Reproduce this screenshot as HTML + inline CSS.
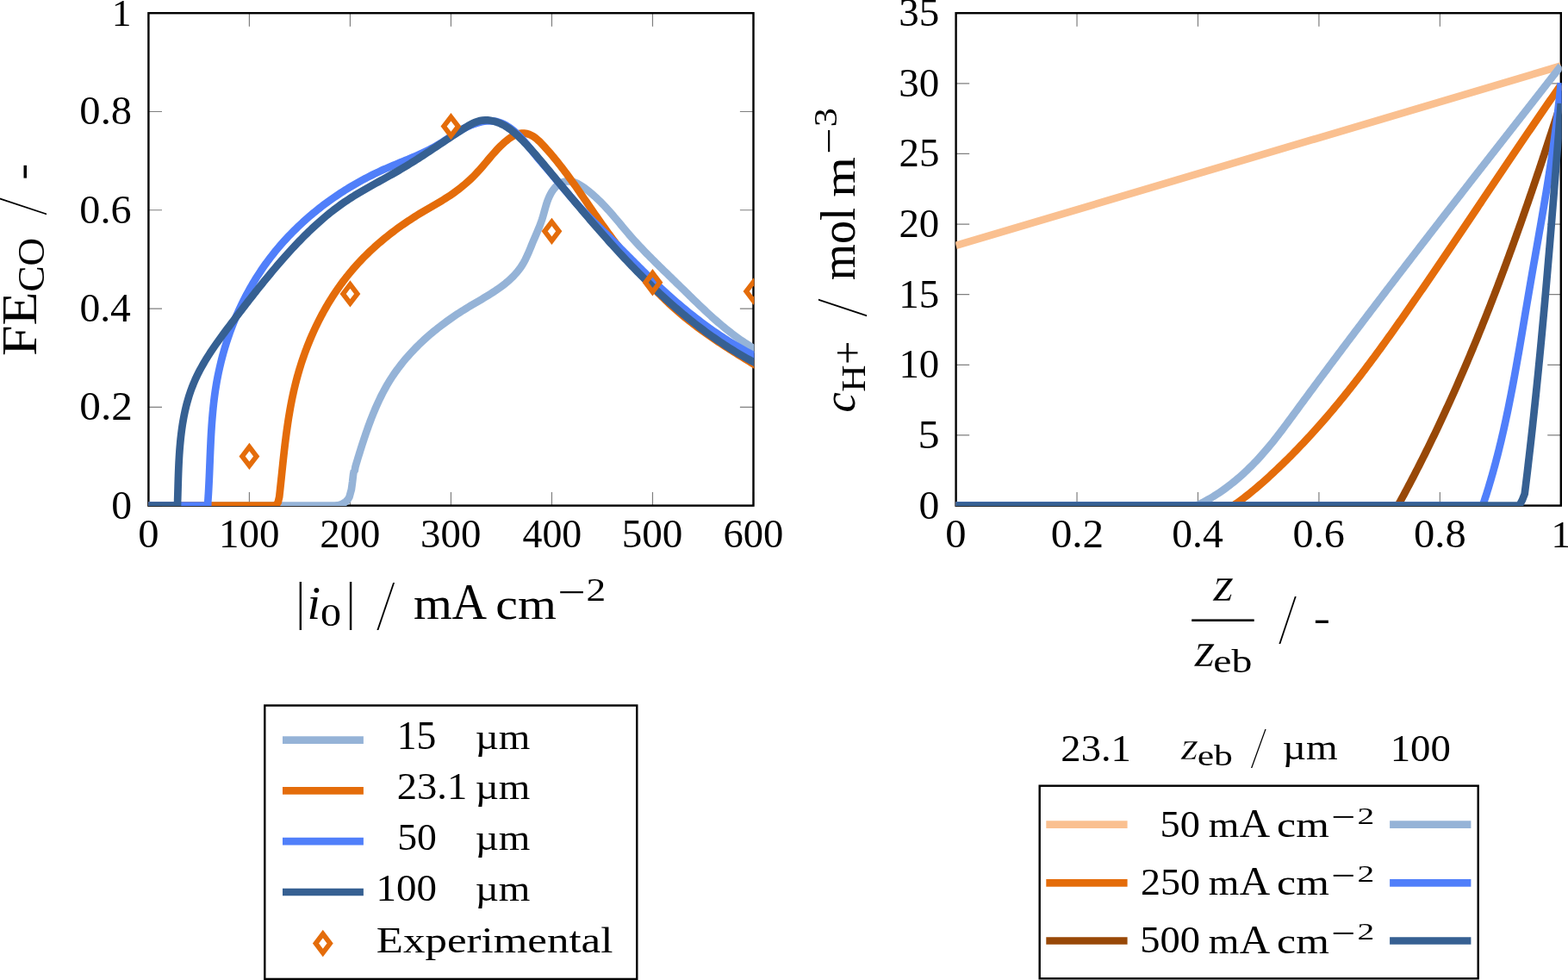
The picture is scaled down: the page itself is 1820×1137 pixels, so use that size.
<!DOCTYPE html>
<html lang="en">
<head>
<meta charset="utf-8">
<title>FE_CO and proton concentration plots</title>
<style>
html,body{margin:0;padding:0;background:#fff;}
body{width:1820px;height:1137px;overflow:hidden;}
svg{display:block;}
svg text{font-family:"Liberation Serif","DejaVu Serif",serif;font-size:100px;fill:#000;font-kerning:none;font-variant-ligatures:none;white-space:pre;}
.ax{fill:none;stroke:#000;stroke-width:2.4;}
.tk{stroke:#7f7f7f;stroke-width:1.2;fill:none;}
.cv{fill:none;stroke-width:8.7;stroke-linejoin:miter;stroke-miterlimit:3;stroke-linecap:butt;}
.mk{fill:none;stroke:#e46c0a;stroke-width:5.75;stroke-linejoin:miter;}
</style>
</head>
<body>
<svg width="1820" height="1137" viewBox="0 0 1820 1137">
<defs>
<clipPath id="clipL"><rect x="172" y="14.9" width="703.4" height="572.05"/></clipPath>
<clipPath id="clipR"><rect x="1109.2" y="14.9" width="703.5" height="572.05"/></clipPath>
</defs>
<rect x="0" y="0" width="1820" height="1137" fill="#fff"/>
<!-- left plot -->
<g>
<path class="tk" d="M172.4 586.6v-15.6M172.4 15.2v15.6M289.42 586.6v-15.6M289.42 15.2v15.6M406.43 586.6v-15.6M406.43 15.2v15.6M523.45 586.6v-15.6M523.45 15.2v15.6M640.47 586.6v-15.6M640.47 15.2v15.6M757.48 586.6v-15.6M757.48 15.2v15.6M874.5 586.6v-15.6M874.5 15.2v15.6M172.4 586.6h15.6M874.5 586.6h-15.6M172.4 472.32h15.6M874.5 472.32h-15.6M172.4 358.04h15.6M874.5 358.04h-15.6M172.4 243.76h15.6M874.5 243.76h-15.6M172.4 129.48h15.6M874.5 129.48h-15.6M172.4 15.2h15.6M874.5 15.2h-15.6"/>
<rect class="ax" x="172.4" y="15.2" width="702.1" height="571.4"/>
<g clip-path="url(#clipL)">
<path class="cv" stroke="#95b3d7" d="M172.4 586.6L388.5 586.6L391.5 586.4L394.4 585.8L397 584.8L399.5 583.4L401.2 582.2L402.7 580.8L404.2 578.9L405.5 576.6L407.9 567.8L409.1 559L410.1 550.2L410.7 547.2L411.8 545.6L412.5 541.4L413.8 537L413.8 537L414.66 534.17L415.53 531.34L416.4 528.49L417.29 525.64L418.18 522.78L419.08 519.92L419.99 517.05L420.91 514.18L421.85 511.31L422.8 508.43L423.76 505.56L424.74 502.69L425.73 499.82L426.75 496.95L427.78 494.09L428.83 491.24L429.9 488.39L430.99 485.55L432.1 482.71L433.24 479.89L434.4 477.08L435.58 474.28L436.79 471.5L438.03 468.73L439.3 465.97L440.59 463.23L441.91 460.51L443.27 457.81L444.65 455.13L446.07 452.47L447.52 449.83L449.01 447.21L450.53 444.62L452.09 442.06L453.68 439.52L455.31 437L456.98 434.52L458.68 432.05L460.42 429.62L462.19 427.21L464 424.83L465.84 422.47L467.71 420.13L469.61 417.83L471.54 415.54L473.51 413.28L475.5 411.05L477.52 408.84L479.57 406.66L481.65 404.5L483.76 402.36L485.89 400.25L488.05 398.16L490.24 396.1L492.45 394.06L494.68 392.04L496.94 390.04L499.22 388.07L501.53 386.13L503.85 384.2L506.2 382.3L508.57 380.42L510.96 378.56L513.36 376.72L515.79 374.91L518.23 373.12L520.7 371.35L523.17 369.6L525.67 367.87L528.18 366.17L530.71 364.48L533.25 362.82L535.8 361.18L538.37 359.56L540.95 357.95L543.54 356.37L546.14 354.81L548.75 353.26L551.36 351.73L553.98 350.2L556.59 348.67L559.2 347.13L561.8 345.59L564.39 344.04L566.96 342.48L569.51 340.89L572.04 339.28L574.55 337.63L577.03 335.96L579.48 334.25L581.9 332.49L584.27 330.69L586.61 328.84L588.9 326.93L591.15 324.96L593.35 322.93L595.49 320.83L597.57 318.66L599.57 316.42L601.5 314.1L603.32 311.71L605.04 309.24L606.65 306.7L608.16 304.09L609.58 301.42L610.92 298.7L612.19 295.94L613.42 293.16L614.6 290.36L615.76 287.55L616.91 284.75L618.06 281.95L619.21 279.18L620.39 276.43L621.56 273.7L622.74 270.97L623.9 268.25L625.04 265.51L626.15 262.76L627.22 259.99L628.24 257.18L629.2 254.33L630.09 251.43L630.94 248.49L631.76 245.53L632.58 242.55L633.42 239.58L634.32 236.63L635.3 233.7L636.38 230.82L637.59 228.01L638.95 225.26L640.5 222.6L642.24 220.07L644.17 217.71L646.28 215.59L648.57 213.77L651.04 212.3L653.65 211.21L656.36 210.52L659.15 210.22L661.95 210.33L664.74 210.85L667.5 211.74L670.22 212.94L672.89 214.4L675.52 216.06L678.1 217.86L680.62 219.74L683.08 221.66L685.49 223.63L687.84 225.63L690.15 227.66L692.4 229.73L694.61 231.83L696.78 233.96L698.91 236.11L701.01 238.28L703.08 240.48L705.12 242.7L707.13 244.93L709.12 247.18L711.09 249.44L713.04 251.72L714.98 254L716.92 256.29L718.84 258.58L720.76 260.87L722.68 263.17L724.61 265.46L726.53 267.74L728.47 270.02L730.42 272.3L732.38 274.56L734.37 276.8L736.37 279.04L738.38 281.26L740.42 283.47L742.46 285.67L744.53 287.86L746.6 290.03L748.69 292.2L750.79 294.36L752.91 296.51L755.03 298.66L757.16 300.8L759.3 302.93L761.45 305.05L763.6 307.17L765.76 309.29L767.92 311.4L770.09 313.52L772.26 315.62L774.44 317.73L776.61 319.84L778.79 321.94L780.96 324.05L783.14 326.15L785.31 328.26L787.48 330.37L789.64 332.49L791.8 334.6L793.96 336.72L796.12 338.83L798.28 340.95L800.44 343.06L802.6 345.17L804.76 347.27L806.92 349.37L809.09 351.47L811.27 353.56L813.44 355.64L815.63 357.71L817.82 359.77L820.02 361.82L822.23 363.86L824.45 365.89L826.68 367.91L828.92 369.91L831.17 371.89L833.43 373.86L835.71 375.81L838.01 377.75L840.31 379.66L842.64 381.56L844.98 383.44L847.34 385.29L849.72 387.12L852.11 388.93L854.53 390.71L856.97 392.47L859.43 394.2L861.91 395.91L864.42 397.58L866.95 399.23L869.51 400.85L872.09 402.44L874.7 403.99L877.33 405.51L880 407"/>
<path class="cv" stroke="#e46c0a" d="M172.4 586.6L318.6 586.6L321.2 585L322.8 582.5L324.2 576.5L324.2 576.5L324.53 573.52L324.86 570.53L325.19 567.55L325.51 564.56L325.83 561.57L326.14 558.57L326.46 555.58L326.77 552.58L327.08 549.58L327.39 546.58L327.71 543.58L328.02 540.58L328.34 537.58L328.66 534.58L328.98 531.58L329.31 528.58L329.65 525.58L329.98 522.58L330.33 519.58L330.68 516.58L331.04 513.58L331.41 510.58L331.79 507.58L332.17 504.59L332.57 501.59L332.98 498.6L333.4 495.61L333.83 492.62L334.28 489.64L334.73 486.65L335.21 483.67L335.7 480.7L336.2 477.72L336.72 474.75L337.26 471.78L337.81 468.82L338.38 465.86L338.97 462.91L339.59 459.95L340.22 457.01L340.87 454.06L341.54 451.13L342.24 448.19L342.96 445.26L343.7 442.34L344.47 439.42L345.26 436.51L346.08 433.61L346.91 430.71L347.78 427.82L348.66 424.93L349.57 422.05L350.51 419.18L351.46 416.32L352.45 413.47L353.45 410.63L354.48 407.79L355.54 404.96L356.62 402.15L357.72 399.34L358.85 396.54L360 393.75L361.18 390.98L362.38 388.21L363.61 385.46L364.86 382.72L366.13 379.99L367.43 377.27L368.76 374.56L370.11 371.87L371.48 369.19L372.88 366.53L374.3 363.88L375.75 361.24L377.22 358.61L378.72 356.01L380.24 353.41L381.79 350.83L383.37 348.27L384.96 345.72L386.59 343.19L388.24 340.68L389.91 338.18L391.61 335.7L393.33 333.24L395.08 330.79L396.86 328.37L398.66 325.96L400.48 323.57L402.34 321.19L404.21 318.84L406.11 316.51L408.04 314.2L410 311.91L411.98 309.63L413.98 307.38L416.01 305.15L418.07 302.94L420.15 300.76L422.26 298.59L424.39 296.45L426.55 294.33L428.73 292.22L430.93 290.15L433.16 288.09L435.4 286.05L437.67 284.04L439.96 282.05L442.27 280.08L444.59 278.13L446.94 276.2L449.3 274.3L451.68 272.41L454.08 270.55L456.49 268.71L458.92 266.89L461.37 265.09L463.82 263.32L466.3 261.56L468.78 259.83L471.28 258.12L473.79 256.43L476.31 254.76L478.84 253.11L481.38 251.49L483.93 249.89L486.49 248.31L489.06 246.75L491.63 245.21L494.21 243.69L496.8 242.18L499.39 240.68L501.97 239.19L504.56 237.69L507.14 236.19L509.71 234.68L512.27 233.15L514.83 231.6L517.37 230.02L519.89 228.41L522.4 226.76L524.89 225.07L527.35 223.33L529.8 221.56L532.21 219.74L534.6 217.88L536.97 215.97L539.3 214.03L541.59 212.04L543.85 210.02L546.08 207.96L548.27 205.86L550.41 203.72L552.52 201.55L554.58 199.34L556.6 197.1L558.59 194.83L560.56 192.55L562.51 190.25L564.45 187.94L566.38 185.64L568.32 183.34L570.28 181.04L572.25 178.77L574.24 176.52L576.28 174.29L578.35 172.1L580.47 169.95L582.64 167.85L584.88 165.8L587.18 163.8L589.56 161.87L592.03 160.04L594.57 158.35L597.18 156.89L599.88 155.72L602.65 154.89L605.49 154.49L608.38 154.54L611.27 155.02L614.08 155.88L616.75 157.07L619.29 158.54L621.72 160.26L624.05 162.18L626.3 164.25L628.48 166.44L630.61 168.71L632.7 171L634.77 173.3L636.8 175.62L638.81 177.94L640.8 180.28L642.76 182.63L644.7 184.99L646.61 187.35L648.5 189.73L650.38 192.11L652.23 194.51L654.07 196.91L655.88 199.32L657.69 201.73L659.48 204.15L661.25 206.58L663.01 209.01L664.76 211.45L666.51 213.9L668.24 216.34L669.96 218.79L671.68 221.25L673.38 223.71L675.09 226.17L676.79 228.63L678.49 231.1L680.19 233.56L681.88 236.03L683.58 238.5L685.27 240.96L686.97 243.43L688.68 245.9L690.39 248.36L692.1 250.83L693.82 253.29L695.55 255.75L697.29 258.21L699.03 260.66L700.78 263.11L702.54 265.56L704.3 268L706.08 270.44L707.86 272.87L709.65 275.3L711.45 277.73L713.25 280.14L715.07 282.55L716.89 284.96L718.73 287.36L720.57 289.75L722.43 292.13L724.29 294.51L726.17 296.88L728.05 299.24L729.95 301.59L731.86 303.93L733.78 306.26L735.7 308.59L737.64 310.9L739.6 313.2L741.56 315.49L743.54 317.77L745.53 320.04L747.53 322.3L749.54 324.55L751.57 326.78L753.61 329L755.66 331.2L757.72 333.4L759.8 335.58L761.9 337.74L764.01 339.89L766.13 342.03L768.26 344.15L770.41 346.25L772.58 348.34L774.76 350.42L776.96 352.47L779.17 354.51L781.4 356.53L783.64 358.54L785.9 360.53L788.17 362.49L790.47 364.45L792.77 366.38L795.1 368.29L797.44 370.19L799.79 372.06L802.16 373.93L804.54 375.77L806.94 377.6L809.35 379.41L811.77 381.21L814.2 382.99L816.65 384.76L819.1 386.52L821.57 388.26L824.05 389.99L826.53 391.71L829.03 393.41L831.53 395.1L834.04 396.78L836.56 398.45L839.08 400.11L841.61 401.76L844.15 403.4L846.69 405.03L849.24 406.66L851.79 408.27L854.35 409.88L856.9 411.47L859.47 413.07L862.03 414.65L864.6 416.23L867.16 417.8L869.73 419.37L872.3 420.94L874.87 422.49L877.43 424.05L880 425.6"/>
<path class="cv" stroke="#507ffa" d="M172.4 586.6L241.2 586.6L241.3 582L241.51 579.01L241.7 576.01L241.89 573.01L242.06 570.01L242.23 567.01L242.38 564.01L242.53 561L242.68 558L242.81 554.99L242.95 551.98L243.08 548.97L243.2 545.97L243.32 542.96L243.44 539.95L243.57 536.94L243.69 533.92L243.81 530.91L243.93 527.9L244.06 524.89L244.18 521.88L244.32 518.87L244.46 515.86L244.6 512.85L244.75 509.84L244.91 506.84L245.07 503.83L245.25 500.82L245.44 497.82L245.63 494.82L245.84 491.81L246.06 488.81L246.29 485.81L246.54 482.82L246.8 479.82L247.08 476.83L247.37 473.84L247.68 470.85L248.01 467.86L248.36 464.88L248.73 461.9L249.12 458.92L249.53 455.94L249.96 452.97L250.42 450L250.9 447.03L251.4 444.06L251.93 441.1L252.49 438.15L253.07 435.19L253.67 432.25L254.3 429.3L254.96 426.36L255.64 423.43L256.35 420.5L257.08 417.58L257.83 414.66L258.61 411.75L259.42 408.84L260.25 405.95L261.11 403.06L261.99 400.17L262.9 397.3L263.83 394.43L264.78 391.57L265.76 388.72L266.77 385.88L267.8 383.05L268.86 380.22L269.94 377.41L271.04 374.61L272.17 371.81L273.33 369.03L274.5 366.26L275.71 363.5L276.94 360.75L278.19 358.01L279.47 355.28L280.77 352.57L282.1 349.87L283.45 347.18L284.82 344.51L286.22 341.84L287.65 339.2L289.1 336.56L290.57 333.94L292.07 331.34L293.59 328.74L295.14 326.17L296.71 323.61L298.31 321.06L299.93 318.54L301.57 316.02L303.24 313.53L304.93 311.05L306.65 308.59L308.39 306.14L310.15 303.71L311.94 301.3L313.76 298.91L315.59 296.54L317.45 294.19L319.34 291.85L321.24 289.53L323.17 287.23L325.13 284.95L327.1 282.69L329.1 280.45L331.11 278.22L333.15 276.02L335.21 273.83L337.29 271.66L339.39 269.51L341.52 267.39L343.66 265.28L345.82 263.19L348 261.12L350.2 259.07L352.42 257.04L354.66 255.02L356.92 253.03L359.19 251.06L361.49 249.11L363.8 247.18L366.13 245.27L368.48 243.38L370.84 241.51L373.22 239.66L375.62 237.83L378.03 236.03L380.46 234.24L382.9 232.47L385.36 230.73L387.84 229L390.33 227.3L392.84 225.62L395.36 223.96L397.89 222.32L400.44 220.7L403 219.11L405.57 217.53L408.16 215.98L410.76 214.45L413.38 212.94L416 211.46L418.64 209.99L421.29 208.55L423.96 207.13L426.63 205.73L429.31 204.36L432.01 203L434.72 201.67L437.43 200.37L440.16 199.08L442.9 197.82L445.64 196.58L448.4 195.37L451.16 194.17L453.93 192.99L456.7 191.82L459.48 190.67L462.26 189.52L465.04 188.38L467.82 187.23L470.6 186.09L473.37 184.94L476.14 183.78L478.9 182.61L481.65 181.42L484.39 180.22L487.12 178.99L489.84 177.75L492.54 176.47L495.23 175.16L497.9 173.82L500.56 172.44L503.19 171.02L505.8 169.56L508.38 168.05L510.95 166.49L513.49 164.89L516.01 163.25L518.53 161.58L521.04 159.9L523.56 158.22L526.1 156.55L528.65 154.9L531.24 153.28L533.86 151.7L536.52 150.17L539.22 148.71L541.98 147.33L544.78 146.03L547.6 144.84L550.46 143.76L553.34 142.8L556.23 141.98L559.13 141.31L562.02 140.8L564.92 140.47L567.79 140.31L570.65 140.36L573.48 140.61L576.28 141.09L579.04 141.8L581.75 142.75L584.42 143.91L587.03 145.28L589.59 146.82L592.1 148.53L594.55 150.38L596.95 152.36L599.28 154.44L601.55 156.6L603.75 158.83L605.88 161.11L607.95 163.42L609.97 165.75L611.94 168.1L613.87 170.47L615.77 172.83L617.66 175.2L619.54 177.55L621.42 179.88L623.31 182.19L625.22 184.49L627.12 186.76L629.04 189.02L630.96 191.27L632.89 193.52L634.82 195.77L636.75 198.02L638.68 200.27L640.61 202.54L642.54 204.82L644.47 207.1L646.41 209.39L648.34 211.69L650.28 213.99L652.22 216.29L654.16 218.59L656.11 220.9L658.07 223.2L660.03 225.5L662 227.8L663.97 230.09L665.96 232.37L667.95 234.65L669.95 236.91L671.97 239.17L673.99 241.41L676.03 243.65L678.08 245.86L680.14 248.06L682.22 250.25L684.31 252.41L686.41 254.56L688.53 256.7L690.65 258.83L692.78 260.94L694.91 263.05L697.05 265.16L699.2 267.26L701.34 269.36L703.48 271.47L705.62 273.57L707.75 275.69L709.88 277.8L712.01 279.92L714.14 282.05L716.26 284.17L718.38 286.3L720.5 288.44L722.62 290.57L724.74 292.71L726.86 294.84L728.98 296.98L731.1 299.11L733.22 301.25L735.34 303.38L737.47 305.51L739.59 307.64L741.73 309.77L743.86 311.89L746 314.01L748.14 316.12L750.29 318.23L752.44 320.34L754.6 322.44L756.76 324.53L758.93 326.61L761.11 328.69L763.3 330.76L765.49 332.82L767.69 334.88L769.9 336.92L772.12 338.95L774.35 340.98L776.59 342.99L778.84 345L781.09 346.99L783.36 348.97L785.64 350.94L787.92 352.9L790.22 354.85L792.52 356.78L794.84 358.7L797.17 360.61L799.5 362.51L801.85 364.39L804.2 366.26L806.57 368.12L808.95 369.97L811.33 371.8L813.73 373.61L816.14 375.41L818.56 377.2L820.99 378.97L823.43 380.72L825.88 382.46L828.34 384.19L830.82 385.9L833.3 387.59L835.8 389.27L838.3 390.93L840.82 392.57L843.35 394.19L845.89 395.8L848.45 397.39L851.01 398.96L853.59 400.52L856.17 402.05L858.77 403.57L861.38 405.07L864.01 406.54L866.64 408L869.29 409.44L871.95 410.86L874.62 412.26L877.3 413.64L880 415"/>
<path class="cv" stroke="#366092" d="M172.4 586.6L206 586.6L206.1 582L206.19 579.06L206.28 576.1L206.37 573.14L206.45 570.17L206.54 567.18L206.62 564.19L206.71 561.19L206.8 558.19L206.89 555.18L206.99 552.16L207.09 549.14L207.21 546.11L207.33 543.08L207.46 540.05L207.6 537.02L207.76 533.98L207.93 530.94L208.11 527.91L208.32 524.87L208.53 521.83L208.77 518.8L209.03 515.77L209.31 512.74L209.61 509.72L209.94 506.7L210.29 503.69L210.66 500.68L211.07 497.68L211.5 494.69L211.96 491.7L212.46 488.72L212.98 485.76L213.54 482.8L214.13 479.85L214.76 476.92L215.43 473.99L216.13 471.08L216.88 468.18L217.66 465.3L218.49 462.43L219.36 459.58L220.28 456.74L221.24 453.92L222.24 451.12L223.3 448.34L224.4 445.57L225.56 442.83L226.76 440.1L228.01 437.39L229.31 434.7L230.65 432.03L232.03 429.37L233.46 426.74L234.92 424.11L236.41 421.51L237.94 418.91L239.51 416.34L241.1 413.77L242.72 411.22L244.37 408.68L246.05 406.16L247.75 403.64L249.47 401.14L251.2 398.64L252.96 396.16L254.73 393.69L256.52 391.23L258.32 388.77L260.13 386.32L261.94 383.88L263.77 381.45L265.59 379.02L267.43 376.6L269.26 374.18L271.09 371.77L272.92 369.37L274.75 366.96L276.58 364.57L278.41 362.17L280.24 359.78L282.07 357.4L283.9 355.02L285.74 352.65L287.57 350.28L289.41 347.91L291.25 345.55L293.1 343.2L294.95 340.85L296.8 338.5L298.66 336.16L300.53 333.83L302.4 331.5L304.27 329.17L306.15 326.85L308.04 324.53L309.94 322.22L311.84 319.91L313.75 317.61L315.67 315.31L317.59 313.02L319.53 310.73L321.48 308.45L323.43 306.18L325.4 303.9L327.37 301.64L329.36 299.38L331.36 297.12L333.37 294.87L335.39 292.63L337.43 290.4L339.47 288.17L341.53 285.96L343.6 283.76L345.69 281.57L347.79 279.39L349.9 277.22L352.02 275.06L354.16 272.93L356.31 270.8L358.48 268.69L360.67 266.6L362.86 264.52L365.08 262.46L367.31 260.42L369.55 258.4L371.81 256.4L374.09 254.42L376.38 252.46L378.69 250.52L381.02 248.61L383.36 246.72L385.73 244.85L388.11 243.01L390.51 241.2L392.92 239.41L395.36 237.64L397.81 235.91L400.29 234.2L402.78 232.53L405.29 230.88L407.82 229.25L410.36 227.65L412.92 226.07L415.49 224.51L418.08 222.97L420.67 221.45L423.27 219.94L425.89 218.44L428.51 216.96L431.13 215.48L433.76 214.01L436.4 212.55L439.04 211.09L441.68 209.64L444.31 208.18L446.95 206.72L449.59 205.26L452.22 203.8L454.85 202.33L457.47 200.85L460.09 199.36L462.69 197.86L465.29 196.34L467.88 194.81L470.46 193.27L473.02 191.71L475.58 190.14L478.14 188.56L480.68 186.96L483.22 185.35L485.75 183.74L488.27 182.11L490.79 180.48L493.31 178.84L495.82 177.19L498.33 175.54L500.84 173.88L503.35 172.22L505.85 170.56L508.36 168.89L510.86 167.22L513.37 165.55L515.87 163.88L518.38 162.22L520.9 160.55L523.41 158.89L525.93 157.23L528.46 155.57L530.99 153.92L533.53 152.28L536.07 150.64L538.62 149.01L541.18 147.4L543.76 145.84L546.37 144.37L549.02 143.02L551.71 141.83L554.45 140.83L557.26 140.05L560.14 139.54L563.09 139.33L566.12 139.42L569.19 139.79L572.26 140.41L575.29 141.25L578.24 142.28L581.09 143.47L583.83 144.81L586.46 146.28L589 147.88L591.46 149.58L593.83 151.38L596.14 153.26L598.39 155.22L600.6 157.23L602.76 159.3L604.88 161.39L606.99 163.52L609.07 165.67L611.13 167.83L613.17 170.02L615.2 172.23L617.2 174.45L619.2 176.69L621.18 178.94L623.14 181.2L625.1 183.48L627.04 185.77L628.98 188.06L630.91 190.37L632.84 192.68L634.76 194.99L636.68 197.31L638.6 199.62L640.51 201.94L642.43 204.26L644.35 206.58L646.27 208.9L648.19 211.22L650.11 213.54L652.03 215.86L653.95 218.18L655.88 220.5L657.8 222.81L659.73 225.13L661.66 227.44L663.59 229.76L665.52 232.07L667.46 234.38L669.4 236.68L671.34 238.99L673.28 241.29L675.22 243.59L677.17 245.89L679.12 248.19L681.08 250.48L683.04 252.77L685 255.06L686.96 257.34L688.93 259.62L690.9 261.9L692.88 264.18L694.86 266.45L696.84 268.71L698.83 270.97L700.82 273.23L702.82 275.48L704.82 277.73L706.83 279.98L708.84 282.22L710.86 284.45L712.88 286.68L714.91 288.9L716.95 291.12L718.99 293.34L721.03 295.54L723.08 297.74L725.14 299.94L727.2 302.13L729.27 304.31L731.35 306.49L733.43 308.66L735.52 310.82L737.62 312.98L739.72 315.13L741.83 317.27L743.95 319.41L746.07 321.53L748.21 323.65L750.35 325.76L752.5 327.87L754.65 329.97L756.82 332.05L758.99 334.13L761.17 336.2L763.36 338.27L765.56 340.32L767.76 342.36L769.98 344.4L772.2 346.43L774.44 348.44L776.68 350.45L778.93 352.45L781.2 354.43L783.47 356.41L785.75 358.38L788.04 360.33L790.34 362.28L792.64 364.21L794.96 366.13L797.29 368.04L799.63 369.93L801.98 371.82L804.33 373.69L806.7 375.55L809.08 377.39L811.47 379.23L813.87 381.05L816.28 382.85L818.69 384.64L821.12 386.42L823.56 388.18L826.01 389.93L828.47 391.66L830.94 393.38L833.43 395.08L835.92 396.77L838.42 398.44L840.94 400.09L843.46 401.73L846 403.35L848.55 404.96L851.1 406.54L853.67 408.11L856.25 409.66L858.85 411.2L861.45 412.71L864.07 414.21L866.69 415.69L869.33 417.15L871.98 418.59L874.64 420.01L877.31 421.42L880 422.8"/>
<path class="mk" d="M289.42 518.56l8.3 10.9l-8.3 10.9l-8.3 -10.9z"/>
<path class="mk" d="M406.43 330l8.3 10.9l-8.3 10.9l-8.3 -10.9z"/>
<path class="mk" d="M523.45 135.72l8.3 10.9l-8.3 10.9l-8.3 -10.9z"/>
<path class="mk" d="M640.47 257.43l8.3 10.9l-8.3 10.9l-8.3 -10.9z"/>
<path class="mk" d="M757.48 316.86l8.3 10.9l-8.3 10.9l-8.3 -10.9z"/>
<path class="mk" d="M874.5 327.14l8.3 10.9l-8.3 10.9l-8.3 -10.9z"/>
</g>
</g>
<!-- right plot -->
<g>
<path class="tk" d="M1109.6 586.6v-15.6M1109.6 15.2v15.6M1250.04 586.6v-15.6M1250.04 15.2v15.6M1390.48 586.6v-15.6M1390.48 15.2v15.6M1530.92 586.6v-15.6M1530.92 15.2v15.6M1671.36 586.6v-15.6M1671.36 15.2v15.6M1811.8 586.6v-15.6M1811.8 15.2v15.6M1109.6 586.6h15.6M1811.8 586.6h-15.6M1109.6 504.97h15.6M1811.8 504.97h-15.6M1109.6 423.34h15.6M1811.8 423.34h-15.6M1109.6 341.71h15.6M1811.8 341.71h-15.6M1109.6 260.09h15.6M1811.8 260.09h-15.6M1109.6 178.46h15.6M1811.8 178.46h-15.6M1109.6 96.83h15.6M1811.8 96.83h-15.6M1109.6 15.2h15.6M1811.8 15.2h-15.6"/>
<rect class="ax" x="1109.6" y="15.2" width="702.2" height="571.4"/>
<g clip-path="url(#clipR)">
<path class="cv" stroke="#fac090" d="M1109.6 284.9L1811.8 76.5"/>
<path class="cv" stroke="#e46c0a" d="M1109.6 586.6L1431.4 586.6L1433.87 584.93L1436.33 583.22L1438.76 581.48L1441.17 579.71L1443.57 577.9L1445.95 576.08L1448.31 574.22L1450.66 572.34L1452.99 570.44L1455.31 568.52L1457.62 566.58L1459.92 564.62L1462.2 562.65L1464.48 560.67L1466.75 558.67L1469 556.66L1471.25 554.64L1473.49 552.6L1475.72 550.56L1477.94 548.5L1480.16 546.43L1482.36 544.36L1484.55 542.27L1486.74 540.18L1488.91 538.08L1491.08 535.97L1493.23 533.85L1495.38 531.72L1497.52 529.59L1499.65 527.44L1501.77 525.29L1503.88 523.14L1505.98 520.97L1508.08 518.8L1510.16 516.62L1512.24 514.43L1514.31 512.24L1516.37 510.03L1518.43 507.83L1520.47 505.61L1522.51 503.39L1524.54 501.16L1526.56 498.92L1528.57 496.68L1530.58 494.42L1532.57 492.17L1534.56 489.9L1536.55 487.63L1538.52 485.36L1540.49 483.08L1542.45 480.79L1544.41 478.49L1546.35 476.19L1548.29 473.88L1550.22 471.57L1552.15 469.25L1554.07 466.93L1555.98 464.6L1557.89 462.26L1559.79 459.92L1561.68 457.57L1563.57 455.22L1565.45 452.87L1567.33 450.5L1569.2 448.14L1571.06 445.77L1572.92 443.39L1574.77 441.01L1576.62 438.62L1578.46 436.23L1580.3 433.84L1582.13 431.44L1583.95 429.04L1585.78 426.63L1587.59 424.22L1589.4 421.81L1591.21 419.39L1593.01 416.97L1594.81 414.55L1596.61 412.12L1598.4 409.69L1600.18 407.25L1601.97 404.81L1603.74 402.37L1605.52 399.93L1607.29 397.48L1609.06 395.03L1610.82 392.58L1612.58 390.12L1614.34 387.67L1616.09 385.21L1617.84 382.75L1619.59 380.28L1621.34 377.82L1623.08 375.35L1624.82 372.88L1626.56 370.41L1628.29 367.93L1630.02 365.46L1631.75 362.98L1633.48 360.5L1635.21 358.02L1636.93 355.54L1638.66 353.06L1640.38 350.58L1642.1 348.1L1643.82 345.61L1645.53 343.13L1647.25 340.64L1648.96 338.15L1650.67 335.67L1652.38 333.18L1654.09 330.69L1655.8 328.2L1657.51 325.71L1659.21 323.21L1660.91 320.72L1662.62 318.23L1664.32 315.73L1666.02 313.24L1667.72 310.75L1669.42 308.25L1671.11 305.75L1672.81 303.26L1674.51 300.76L1676.2 298.26L1677.89 295.76L1679.59 293.26L1681.28 290.76L1682.97 288.26L1684.66 285.76L1686.35 283.26L1688.04 280.76L1689.73 278.26L1691.41 275.76L1693.1 273.26L1694.79 270.75L1696.47 268.25L1698.16 265.75L1699.84 263.24L1701.53 260.74L1703.21 258.24L1704.89 255.73L1706.58 253.23L1708.26 250.72L1709.94 248.22L1711.63 245.72L1713.31 243.21L1714.99 240.71L1716.67 238.2L1718.36 235.7L1720.04 233.19L1721.72 230.69L1723.4 228.18L1725.09 225.68L1726.77 223.17L1728.45 220.67L1730.13 218.16L1731.82 215.66L1733.5 213.16L1735.18 210.65L1736.87 208.15L1738.55 205.65L1740.24 203.14L1741.92 200.64L1743.61 198.14L1745.29 195.63L1746.98 193.13L1748.67 190.63L1750.35 188.13L1752.04 185.63L1753.73 183.13L1755.42 180.63L1757.11 178.13L1758.8 175.63L1760.5 173.13L1762.19 170.63L1763.88 168.14L1765.58 165.64L1767.27 163.14L1768.97 160.65L1770.67 158.15L1772.36 155.66L1774.06 153.16L1775.77 150.67L1777.47 148.18L1779.17 145.68L1780.87 143.19L1782.58 140.7L1784.29 138.21L1786 135.72L1787.7 133.24L1789.42 130.75L1791.13 128.26L1792.84 125.78L1794.56 123.29L1796.27 120.81L1797.99 118.33L1799.71 115.84L1801.43 113.36L1803.16 110.88L1804.88 108.4L1806.61 105.93L1808.34 103.45L1810.07 100.97L1811.8 98.5"/>
<path class="cv" stroke="#984807" d="M1109.6 586.6L1622.6 586.6L1624.05 583.95L1625.5 581.29L1626.95 578.64L1628.38 575.98L1629.82 573.32L1631.25 570.65L1632.67 567.99L1634.09 565.32L1635.5 562.65L1636.91 559.97L1638.31 557.29L1639.71 554.62L1641.1 551.93L1642.49 549.25L1643.87 546.56L1645.25 543.88L1646.62 541.18L1647.99 538.49L1649.36 535.8L1650.71 533.1L1652.07 530.4L1653.42 527.69L1654.76 524.99L1656.1 522.28L1657.44 519.57L1658.77 516.86L1660.1 514.15L1661.42 511.43L1662.74 508.71L1664.05 505.99L1665.36 503.27L1666.66 500.55L1667.96 497.82L1669.26 495.09L1670.55 492.36L1671.83 489.63L1673.12 486.89L1674.39 484.16L1675.67 481.42L1676.94 478.68L1678.2 475.93L1679.46 473.19L1680.72 470.44L1681.97 467.69L1683.22 464.94L1684.46 462.19L1685.7 459.44L1686.94 456.68L1688.17 453.92L1689.4 451.16L1690.62 448.4L1691.84 445.64L1693.06 442.87L1694.27 440.1L1695.48 437.33L1696.68 434.56L1697.88 431.79L1699.08 429.02L1700.27 426.24L1701.46 423.46L1702.64 420.68L1703.82 417.9L1705 415.12L1706.17 412.33L1707.34 409.55L1708.51 406.76L1709.67 403.97L1710.83 401.18L1711.99 398.39L1713.14 395.59L1714.29 392.8L1715.43 390L1716.58 387.2L1717.71 384.4L1718.85 381.6L1719.98 378.79L1721.11 375.99L1722.23 373.18L1723.35 370.38L1724.47 367.57L1725.59 364.76L1726.7 361.95L1727.81 359.13L1728.91 356.32L1730.01 353.5L1731.11 350.68L1732.21 347.87L1733.3 345.05L1734.39 342.23L1735.47 339.4L1736.56 336.58L1737.64 333.76L1738.71 330.93L1739.79 328.1L1740.86 325.27L1741.93 322.45L1742.99 319.61L1744.06 316.78L1745.12 313.95L1746.17 311.12L1747.23 308.28L1748.28 305.44L1749.33 302.61L1750.37 299.77L1751.41 296.93L1752.45 294.09L1753.49 291.25L1754.53 288.41L1755.56 285.56L1756.59 282.72L1757.62 279.87L1758.64 277.03L1759.66 274.18L1760.68 271.33L1761.7 268.48L1762.72 265.63L1763.73 262.78L1764.74 259.93L1765.75 257.08L1766.75 254.23L1767.75 251.37L1768.75 248.52L1769.75 245.66L1770.75 242.81L1771.74 239.95L1772.74 237.09L1773.72 234.24L1774.71 231.38L1775.7 228.52L1776.68 225.66L1777.66 222.8L1778.64 219.93L1779.62 217.07L1780.59 214.21L1781.57 211.35L1782.54 208.48L1783.51 205.62L1784.47 202.75L1785.44 199.89L1786.4 197.02L1787.36 194.15L1788.32 191.29L1789.28 188.42L1790.24 185.55L1791.19 182.68L1792.15 179.81L1793.1 176.95L1794.05 174.08L1794.99 171.21L1795.94 168.34L1796.88 165.47L1797.83 162.59L1798.77 159.72L1799.71 156.85L1800.65 153.98L1801.58 151.11L1802.52 148.24L1803.45 145.36L1804.39 142.49L1805.32 139.62L1806.25 136.74L1807.18 133.87L1808.1 131L1809.03 128.12L1809.95 125.25L1810.88 122.37L1811.8 119.5"/>
<path class="cv" stroke="#95b3d7" d="M1109.6 586.6L1388.8 586.6L1391.52 585.3L1394.22 583.95L1396.9 582.57L1399.55 581.14L1402.18 579.67L1404.79 578.17L1407.37 576.62L1409.93 575.04L1412.47 573.43L1414.98 571.77L1417.47 570.09L1419.94 568.36L1422.38 566.61L1424.8 564.82L1427.2 563L1429.57 561.15L1431.92 559.27L1434.25 557.36L1436.55 555.42L1438.83 553.45L1441.09 551.46L1443.32 549.44L1445.53 547.4L1447.72 545.33L1449.88 543.24L1452.03 541.12L1454.15 538.99L1456.24 536.83L1458.32 534.65L1460.38 532.45L1462.42 530.23L1464.43 528L1466.43 525.74L1468.41 523.47L1470.37 521.18L1472.32 518.88L1474.24 516.56L1476.15 514.23L1478.05 511.89L1479.92 509.53L1481.79 507.17L1483.64 504.79L1485.47 502.4L1487.3 500L1489.11 497.6L1490.92 495.19L1492.72 492.77L1494.52 490.35L1496.31 487.93L1498.09 485.5L1499.88 483.07L1501.66 480.64L1503.44 478.21L1505.23 475.79L1507.01 473.36L1508.8 470.93L1510.58 468.5L1512.37 466.08L1514.16 463.65L1515.95 461.23L1517.74 458.8L1519.53 456.38L1521.32 453.96L1523.12 451.54L1524.91 449.11L1526.71 446.69L1528.5 444.27L1530.3 441.85L1532.1 439.44L1533.9 437.02L1535.69 434.6L1537.49 432.18L1539.3 429.77L1541.1 427.35L1542.9 424.94L1544.7 422.52L1546.51 420.11L1548.31 417.69L1550.12 415.28L1551.93 412.87L1553.73 410.46L1555.54 408.05L1557.35 405.64L1559.16 403.23L1560.97 400.82L1562.78 398.41L1564.6 396L1566.41 393.59L1568.22 391.19L1570.04 388.78L1571.85 386.38L1573.67 383.97L1575.49 381.57L1577.3 379.16L1579.12 376.76L1580.94 374.35L1582.76 371.95L1584.58 369.55L1586.4 367.15L1588.22 364.75L1590.05 362.35L1591.87 359.95L1593.7 357.55L1595.52 355.15L1597.35 352.75L1599.17 350.35L1601 347.95L1602.83 345.56L1604.65 343.16L1606.48 340.76L1608.31 338.37L1610.14 335.97L1611.97 333.58L1613.81 331.18L1615.64 328.79L1617.47 326.4L1619.3 324L1621.14 321.61L1622.97 319.22L1624.81 316.83L1626.64 314.44L1628.48 312.05L1630.32 309.66L1632.16 307.27L1633.99 304.88L1635.83 302.49L1637.67 300.1L1639.51 297.71L1641.35 295.32L1643.19 292.93L1645.03 290.55L1646.87 288.16L1648.72 285.77L1650.56 283.39L1652.4 281L1654.25 278.62L1656.09 276.23L1657.94 273.85L1659.78 271.46L1661.63 269.08L1663.47 266.69L1665.32 264.31L1667.16 261.93L1669.01 259.54L1670.86 257.16L1672.71 254.78L1674.56 252.39L1676.4 250.01L1678.25 247.63L1680.1 245.25L1681.95 242.87L1683.8 240.49L1685.65 238.11L1687.5 235.73L1689.35 233.35L1691.2 230.97L1693.06 228.59L1694.91 226.21L1696.76 223.83L1698.61 221.45L1700.47 219.07L1702.32 216.69L1704.17 214.31L1706.02 211.93L1707.88 209.56L1709.73 207.18L1711.59 204.8L1713.44 202.42L1715.29 200.04L1717.15 197.67L1719 195.29L1720.86 192.91L1722.71 190.54L1724.57 188.16L1726.43 185.78L1728.28 183.41L1730.14 181.03L1731.99 178.65L1733.85 176.28L1735.7 173.9L1737.56 171.53L1739.42 169.15L1741.27 166.77L1743.13 164.4L1744.99 162.02L1746.84 159.65L1748.7 157.27L1750.56 154.9L1752.41 152.52L1754.27 150.14L1756.13 147.77L1757.98 145.39L1759.84 143.02L1761.7 140.64L1763.55 138.27L1765.41 135.89L1767.27 133.52L1769.12 131.14L1770.98 128.77L1772.84 126.39L1774.69 124.02L1776.55 121.64L1778.41 119.27L1780.26 116.89L1782.12 114.52L1783.98 112.14L1785.83 109.76L1787.69 107.39L1789.54 105.01L1791.4 102.64L1793.25 100.26L1795.11 97.89L1796.96 95.51L1798.82 93.13L1800.67 90.76L1802.53 88.38L1804.38 86.01L1806.24 83.63L1808.09 81.25L1809.95 78.88L1811.8 76.5"/>
<path class="cv" stroke="#507ffa" d="M1109.6 586.6L1721 586.6L1721.96 583.72L1722.91 580.85L1723.85 577.96L1724.78 575.08L1725.69 572.19L1726.59 569.3L1727.48 566.41L1728.36 563.51L1729.23 560.61L1730.09 557.71L1730.93 554.81L1731.77 551.9L1732.59 548.99L1733.41 546.08L1734.21 543.17L1735 540.25L1735.79 537.33L1736.56 534.41L1737.33 531.48L1738.08 528.56L1738.83 525.63L1739.57 522.7L1740.29 519.77L1741.01 516.83L1741.72 513.9L1742.43 510.96L1743.12 508.02L1743.81 505.07L1744.49 502.13L1745.16 499.18L1745.82 496.23L1746.48 493.28L1747.13 490.33L1747.77 487.38L1748.4 484.42L1749.03 481.47L1749.65 478.51L1750.27 475.55L1750.88 472.59L1751.48 469.62L1752.08 466.66L1752.67 463.69L1753.26 460.73L1753.84 457.76L1754.42 454.79L1754.99 451.82L1755.55 448.85L1756.12 445.87L1756.67 442.9L1757.23 439.92L1757.78 436.95L1758.32 433.97L1758.86 430.99L1759.4 428.01L1759.94 425.03L1760.47 422.05L1761 419.07L1761.52 416.09L1762.04 413.11L1762.56 410.13L1763.08 407.14L1763.6 404.16L1764.11 401.17L1764.62 398.19L1765.13 395.2L1765.64 392.21L1766.15 389.23L1766.65 386.24L1767.16 383.25L1767.66 380.27L1768.16 377.28L1768.67 374.29L1769.17 371.3L1769.67 368.32L1770.17 365.33L1770.67 362.34L1771.18 359.35L1771.68 356.37L1772.18 353.38L1772.69 350.39L1773.19 347.41L1773.7 344.42L1774.21 341.43L1774.72 338.45L1775.23 335.46L1775.74 332.48L1776.26 329.49L1776.77 326.51L1777.29 323.52L1777.81 320.54L1778.32 317.56L1778.84 314.57L1779.37 311.59L1779.89 308.61L1780.41 305.62L1780.93 302.64L1781.45 299.66L1781.98 296.68L1782.5 293.7L1783.02 290.71L1783.55 287.73L1784.07 284.75L1784.59 281.77L1785.11 278.79L1785.64 275.81L1786.16 272.82L1786.68 269.84L1787.2 266.86L1787.72 263.88L1788.23 260.9L1788.75 257.92L1789.26 254.93L1789.78 251.95L1790.29 248.97L1790.8 245.99L1791.31 243L1791.82 240.02L1792.32 237.04L1792.82 234.05L1793.32 231.07L1793.82 228.09L1794.32 225.1L1794.81 222.12L1795.3 219.13L1795.79 216.15L1796.28 213.16L1796.76 210.18L1797.24 207.19L1797.71 204.2L1798.19 201.21L1798.65 198.23L1799.12 195.24L1799.58 192.25L1800.04 189.26L1800.5 186.27L1800.95 183.28L1801.39 180.29L1801.84 177.29L1802.27 174.3L1802.71 171.31L1803.14 168.31L1803.56 165.32L1803.98 162.32L1804.4 159.33L1804.81 156.33L1805.21 153.33L1805.61 150.33L1806.01 147.34L1806.4 144.33L1806.78 141.33L1807.16 138.33L1807.53 135.33L1807.9 132.32L1808.26 129.32L1808.61 126.31L1808.96 123.31L1809.3 120.3L1809.64 117.29L1809.97 114.28L1810.29 111.27L1810.61 108.26L1810.92 105.25L1811.22 102.23L1811.51 99.22L1811.8 96.2"/>
<path class="cv" stroke="#366092" d="M1109.6 586.6L1763.5 586.6L1767 580L1769.7 573L1769.7 573L1770.07 569.99L1770.45 566.98L1770.82 563.97L1771.18 560.96L1771.55 557.95L1771.91 554.93L1772.28 551.92L1772.64 548.91L1773 545.9L1773.35 542.89L1773.71 539.87L1774.06 536.86L1774.41 533.85L1774.77 530.84L1775.11 527.82L1775.46 524.81L1775.81 521.8L1776.15 518.78L1776.49 515.77L1776.83 512.75L1777.17 509.74L1777.51 506.73L1777.84 503.71L1778.18 500.7L1778.51 497.68L1778.84 494.67L1779.17 491.65L1779.5 488.64L1779.82 485.62L1780.15 482.6L1780.47 479.59L1780.79 476.57L1781.11 473.56L1781.43 470.54L1781.75 467.52L1782.06 464.51L1782.38 461.49L1782.69 458.47L1783 455.46L1783.31 452.44L1783.62 449.42L1783.93 446.4L1784.23 443.39L1784.54 440.37L1784.84 437.35L1785.15 434.33L1785.45 431.31L1785.75 428.29L1786.04 425.28L1786.34 422.26L1786.64 419.24L1786.93 416.22L1787.22 413.2L1787.52 410.18L1787.81 407.16L1788.1 404.14L1788.38 401.12L1788.67 398.1L1788.96 395.08L1789.24 392.06L1789.53 389.04L1789.81 386.02L1790.09 383L1790.37 379.98L1790.65 376.96L1790.93 373.94L1791.21 370.92L1791.48 367.9L1791.76 364.88L1792.03 361.86L1792.31 358.84L1792.58 355.82L1792.85 352.8L1793.12 349.77L1793.39 346.75L1793.66 343.73L1793.93 340.71L1794.19 337.69L1794.46 334.67L1794.72 331.64L1794.99 328.62L1795.25 325.6L1795.51 322.58L1795.77 319.56L1796.03 316.53L1796.29 313.51L1796.55 310.49L1796.81 307.47L1797.07 304.44L1797.32 301.42L1797.58 298.4L1797.84 295.38L1798.09 292.35L1798.34 289.33L1798.6 286.31L1798.85 283.28L1799.1 280.26L1799.35 277.24L1799.6 274.22L1799.85 271.19L1800.1 268.17L1800.35 265.15L1800.6 262.12L1800.84 259.1L1801.09 256.08L1801.34 253.05L1801.58 250.03L1801.83 247L1802.07 243.98L1802.32 240.96L1802.56 237.93L1802.8 234.91L1803.04 231.89L1803.29 228.86L1803.53 225.84L1803.77 222.81L1804.01 219.79L1804.25 216.77L1804.49 213.74L1804.73 210.72L1804.97 207.7L1805.21 204.67L1805.45 201.65L1805.69 198.62L1805.92 195.6L1806.16 192.58L1806.4 189.55L1806.63 186.53L1806.87 183.5L1807.11 180.48L1807.34 177.46L1807.58 174.43L1807.82 171.41L1808.05 168.38L1808.29 165.36L1808.52 162.34L1808.76 159.31L1808.99 156.29L1809.23 153.26L1809.46 150.24L1809.69 147.22L1809.93 144.19L1810.16 141.17L1810.4 138.14L1810.63 135.12L1810.86 132.1L1811.1 129.07L1811.33 126.05L1811.57 123.02L1811.8 120"/>
</g>
</g>
<!-- left plot tick labels -->
<g>
<text transform="matrix(0.4766 0 0 0.4579 129.28 601.6)">0</text>
<text transform="matrix(0.4928 0 0 0.4549 92.32 487.13)">0.2</text>
<text transform="matrix(0.4765 0 0 0.4549 92.39 372.85)">0.4</text>
<text transform="matrix(0.4822 0 0 0.4549 92.36 258.57)">0.6</text>
<text transform="matrix(0.4856 0 0 0.4549 92.35 144.29)">0.8</text>
<text transform="matrix(0.4545 0 0 0.4529 129.81 30.15)">1</text>
<text transform="matrix(0.486 0 0 0.4579 160.15 635.3)">0</text>
<text transform="matrix(0.4694 0 0 0.4579 253.99 635.3)">100</text>
<text transform="matrix(0.4669 0 0 0.4579 371.28 635.3)">200</text>
<text transform="matrix(0.4682 0 0 0.4579 488.11 635.3)">300</text>
<text transform="matrix(0.459 0 0 0.4579 606.47 635.3)">400</text>
<text transform="matrix(0.4716 0 0 0.4579 721.64 635.3)">500</text>
<text transform="matrix(0.4665 0 0 0.4579 839.4 635.3)">600</text>
</g>
<!-- left y label -->
<g transform="translate(41.5 411.2) rotate(-90)">
<text transform="matrix(0.6395 0 0 0.5697 -1.84 0)">FE</text>
<text transform="matrix(0.4521 0 0 0.4391 72.65 9.37)">CO</text>
<text transform="matrix(0.8206 0 0 0.8521 160.4 12.67)" stroke="#fff" stroke-width="2.39">/</text>
<text transform="matrix(0.5697 0 0 0.4551 202.49 -1.88)">-</text>
</g>
<!-- left x label -->
<g>
<text transform="matrix(0.4819 0 0 0.6035 344.08 717.97)">|</text>
<text transform="matrix(0.5588 0 0 0.5588 356.38 718)" font-style="italic">i</text>
<text transform="matrix(0.4813 0 0 0.366 372.07 725.74)">0</text>
<text transform="matrix(0.4819 0 0 0.6035 402.28 717.97)">|</text>
<text transform="matrix(0.8458 0 0 0.8521 436.1 731.17)" stroke="#fff" stroke-width="2.36">/</text>
<text transform="matrix(0.5774 0 0 0.5284 479.89 717.5)">m</text><text transform="matrix(0.5616 0 0 0.5953 524.45 717.5)">A</text>
<text transform="matrix(0.5779 0 0 0.5136 575.3 717.5)">cm</text>
<text transform="matrix(0.5738 0 0 0.4417 647.54 701.57)">−</text>
<text transform="matrix(0.454 0 0 0.3746 680.5 697.3)">2</text>
</g>
<!-- right plot tick labels -->
<g>
<text transform="matrix(0.4766 0 0 0.4579 1066.48 601.6)">0</text>
<text transform="matrix(0.5014 0 0 0.465 1065.39 519.97)">5</text>
<text transform="matrix(0.4691 0 0 0.4579 1043.38 438.35)">10</text>
<text transform="matrix(0.4696 0 0 0.4612 1043.37 356.71)">15</text>
<text transform="matrix(0.4684 0 0 0.4579 1043.44 275.09)">20</text>
<text transform="matrix(0.4689 0 0 0.4599 1043.44 193.46)">25</text>
<text transform="matrix(0.4704 0 0 0.4579 1043.25 111.83)">30</text>
<text transform="matrix(0.4709 0 0 0.4599 1043.25 30.2)">35</text>
<text transform="matrix(0.486 0 0 0.4579 1097.35 635.3)">0</text>
<text transform="matrix(0.4928 0 0 0.4549 1219.66 635.11)">0.2</text>
<text transform="matrix(0.4765 0 0 0.4549 1360.17 635.11)">0.4</text>
<text transform="matrix(0.4822 0 0 0.4549 1500.58 635.11)">0.6</text>
<text transform="matrix(0.4856 0 0 0.4549 1641.01 635.11)">0.8</text>
<text transform="matrix(0.4545 0 0 0.4529 1800.51 635.25)">1</text>
</g>
<!-- right y label -->
<g transform="translate(992.3 476.8) rotate(-90)">
<text transform="matrix(0.5244 0 0 0.5281 -1.61 -0.12)" font-style="italic">c</text>
<text transform="matrix(0.4337 0 0 0.4078 21.95 11.5)">H</text>
<text transform="matrix(0.4835 0 0 0.498 53.79 8.74)">+</text>
<text transform="matrix(0.8422 0 0 0.8611 108 13.86)" stroke="#fff" stroke-width="2.35">/</text>
<text transform="matrix(0.5427 0 0 0.5628 151.56 -0.05)">mol</text>
<text transform="matrix(0.6004 0 0 0.5221 248.14 0)">m</text>
<text transform="matrix(0.5415 0 0 0.4417 298 -15.73)">−</text>
<text transform="matrix(0.443 0 0 0.3751 329.58 -21.07)">3</text>
</g>
<!-- right x label -->
<g>
<text transform="matrix(0.6121 0 0 0.5621 1408.34 697.25)" font-style="italic" stroke="#fff" stroke-width="0.85">z</text>
<rect x="1383.2" y="718.4" width="72.5" height="2.6" fill="#000"/>
<text transform="matrix(0.6147 0 0 0.5621 1386.44 772.55)" font-style="italic" stroke="#fff" stroke-width="0.85">z</text>
<text transform="matrix(0.4788 0 0 0.3837 1408.13 779.93)">eb</text>
<text transform="matrix(0.8314 0 0 0.8506 1482.9 747.17)" stroke="#fff" stroke-width="2.38">/</text>
<text transform="matrix(0.5774 0 0 0.4417 1524.86 732.36)">-</text>
</g>
<!-- left legend -->
<g>
<rect class="ax" x="307.3" y="818.5" width="432" height="317.4" fill="#fff"/>
<path class="cv" stroke="#95b3d7" d="M328 858.6H421.9"/>
<path class="cv" stroke="#e46c0a" d="M328 917.4H421.9"/>
<path class="cv" stroke="#507ffa" d="M328 976.2H421.9"/>
<path class="cv" stroke="#366092" d="M328 1035H421.9"/>
<path class="mk" d="M374.8 1083.6l8.3 10.9l-8.3 10.9l-8.3 -10.9z"/>
<text transform="matrix(0.4559 0 0 0.4553 460.69 868.51)">15</text>
<text transform="matrix(0.4701 0 0 0.4122 551.69 868.62)">µm</text>
<text transform="matrix(0.466 0 0 0.451 460.65 927.11)">23.1</text>
<text transform="matrix(0.4701 0 0 0.4122 551.69 927.42)">µm</text>
<text transform="matrix(0.457 0 0 0.452 461.14 986.11)">50</text>
<text transform="matrix(0.4701 0 0 0.4122 551.69 986.22)">µm</text>
<text transform="matrix(0.4702 0 0 0.452 436.57 1045.01)">100</text>
<text transform="matrix(0.4701 0 0 0.4122 551.69 1045.12)">µm</text>
<text transform="matrix(0.5099 0 0 0.4323 436.83 1104.8)">Experimental</text>
</g>
<!-- right legend -->
<g>
<text transform="matrix(0.466 0 0 0.451 1231.35 883.21)">23.1</text>
<text transform="matrix(0.5129 0 0 0.4662 1371 881.15)" font-style="italic" stroke="#fff" stroke-width="1.02">z</text>
<text transform="matrix(0.4373 0 0 0.3354 1389.69 887.57)">eb</text>
<text transform="matrix(0.7415 0 0 0.6906 1450.4 891.43)" stroke="#fff" stroke-width="2.79">/</text>
<text transform="matrix(0.4716 0 0 0.4122 1488.78 880.92)">µm</text>
<text transform="matrix(0.468 0 0 0.452 1613.69 883.41)">100</text>
<rect class="ax" x="1206.7" y="911.7" width="509.0" height="223.6" fill="#fff"/>
<path class="cv" stroke="#fac090" d="M1214.3 956.7H1308.6"/>
<path class="cv" stroke="#95b3d7" d="M1613.1 956.7H1707.4"/>
<path class="cv" stroke="#e46c0a" d="M1214.3 1024.3H1308.6"/>
<path class="cv" stroke="#507ffa" d="M1613.1 1024.3H1707.4"/>
<path class="cv" stroke="#984807" d="M1214.3 1091.5H1308.6"/>
<path class="cv" stroke="#366092" d="M1613.1 1091.5H1707.4"/>
<text transform="matrix(0.4636 0 0 0.452 1346.61 970.61)">50</text>
<text transform="matrix(0.4574 0 0 0.4308 1402.84 970.8)">m</text><text transform="matrix(0.4907 0 0 0.4741 1438.72 970.8)">A</text>
<text transform="matrix(0.4966 0 0 0.4304 1482.11 970.78)">cm</text>
<text transform="matrix(0.4964 0 0 0.4016 1545.23 961.03)">−</text>
<text transform="matrix(0.3941 0 0 0.2839 1575.47 955.6)">2</text>
<text transform="matrix(0.4605 0 0 0.452 1323.88 1038.21)">250</text>
<text transform="matrix(0.4574 0 0 0.4308 1402.84 1038.4)">m</text><text transform="matrix(0.4907 0 0 0.4741 1438.72 1038.4)">A</text>
<text transform="matrix(0.4966 0 0 0.4304 1482.11 1038.38)">cm</text>
<text transform="matrix(0.4964 0 0 0.4016 1545.23 1028.63)">−</text>
<text transform="matrix(0.3941 0 0 0.2839 1575.47 1023.2)">2</text>
<text transform="matrix(0.4652 0 0 0.452 1323.2 1105.41)">500</text>
<text transform="matrix(0.4574 0 0 0.4308 1402.84 1105.6)">m</text><text transform="matrix(0.4907 0 0 0.4741 1438.72 1105.6)">A</text>
<text transform="matrix(0.4966 0 0 0.4304 1482.11 1105.58)">cm</text>
<text transform="matrix(0.4964 0 0 0.4016 1545.23 1095.83)">−</text>
<text transform="matrix(0.3941 0 0 0.2839 1575.47 1090.4)">2</text>
</g>
</svg>
</body>
</html>
